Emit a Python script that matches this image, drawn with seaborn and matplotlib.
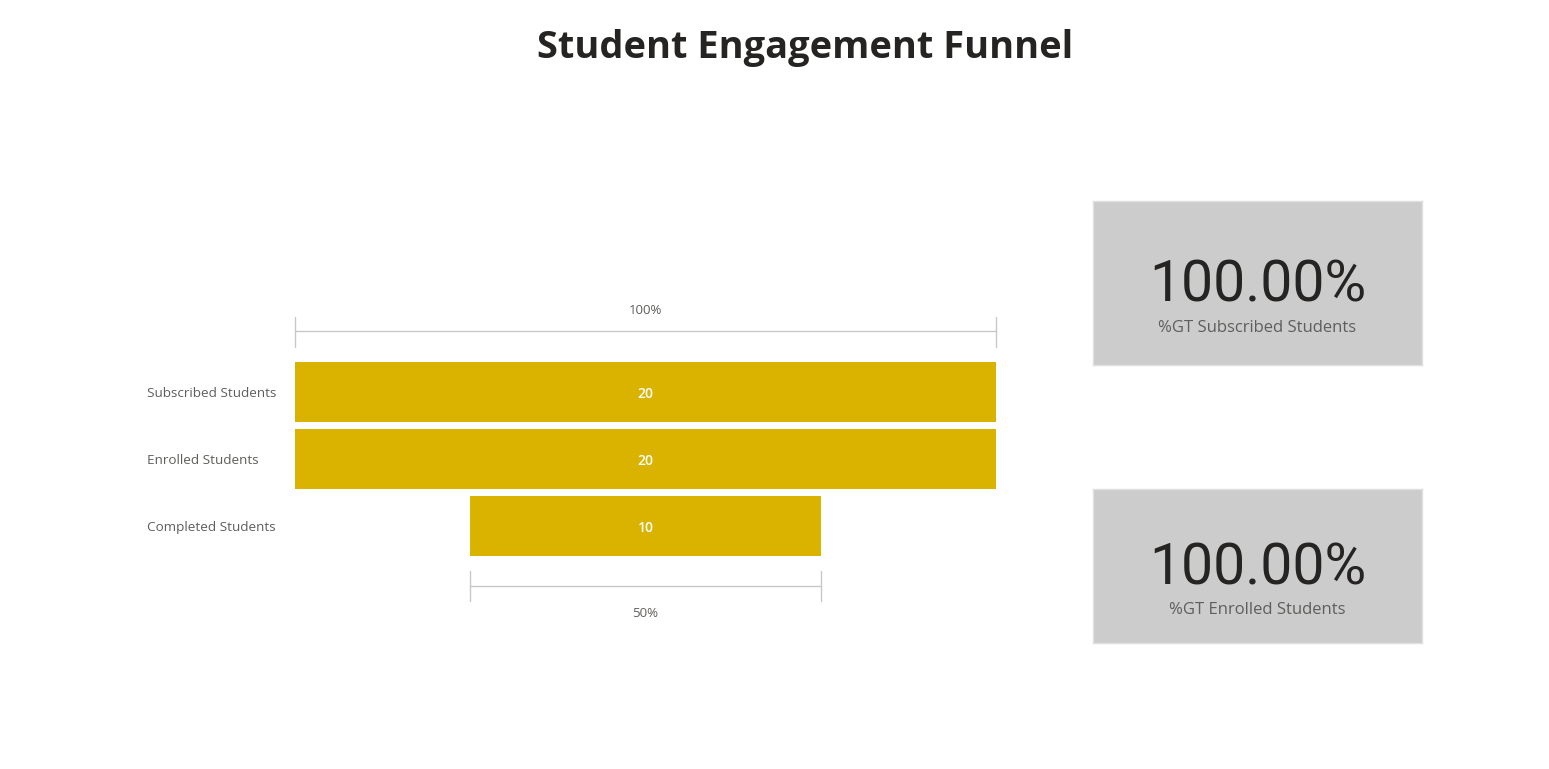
import matplotlib
matplotlib.use("Agg")
import matplotlib.pyplot as plt
import seaborn as sns
import pandas as pd

# ---- data ----
categories = ["Subscribed Students", "Enrolled Students", "Completed Students"]
values = [20, 20, 10]
bracket_labels = ["100%", "50%"]
card_values = ["100.00%", "100.00%"]
card_labels = ["%GT Subscribed Students", "%GT Enrolled Students"]

W, H = 1549, 769
sns.set_theme(style="white")
plt.rcParams['font.family'] = ['Open Sans', 'DejaVu Sans']

fig = plt.figure(figsize=(W / 100, H / 100), dpi=100)
fig.patch.set_facecolor("white")


def px_axes(x0, y0, x1, y1):
    return fig.add_axes([x0 / W, 1 - y1 / H, (x1 - x0) / W, (y1 - y0) / H])


fig.text(805 / W, 1 - 48 / H, "Student Engagement Funnel", ha="center", va="center",
         fontsize=27.4, fontweight="bold", color="#252423")

# ---- funnel ----
ax = px_axes(295, 290, 996, 630)
df = pd.DataFrame({"stage": categories, "value": values})
df["half"] = df["value"] / 2
df["neg"] = -df["value"] / 2
bar_color = "#d9b300"
sns.barplot(data=df, x="half", y="stage", orient="h", color=bar_color, width=0.896,
            saturation=1, ax=ax, linewidth=0)
sns.barplot(data=df, x="neg", y="stage", orient="h", color=bar_color, width=0.896,
            saturation=1, ax=ax, linewidth=0)
top = max(values)
ax.set_xlim(-top / 2, top / 2)
ax.set_ylim(3.552, -1.522)
ax.set_xlabel("")
ax.set_ylabel("")
ax.set_xticks([])
for s in ax.spines.values():
    s.set_visible(False)
ax.tick_params(axis="y", length=0, pad=106.5, labelsize=9.7, labelcolor="#605e5c")
for lab in ax.get_yticklabels():
    lab.set_ha("left")

for i, v in enumerate(values):
    ax.text(0, i + 0.03, str(v), ha="center", va="center", color="white", fontsize=10,
            fontweight="semibold")

gray = "#c8c8c8"
# top bracket (first stage)
v0 = values[0]
ax.plot([-v0 / 2, v0 / 2], [-0.910, -0.910], color=gray, lw=1, clip_on=False)
for xx in (-v0 / 2, v0 / 2):
    ax.plot([xx, xx], [-1.119, -0.672], color=gray, lw=1, clip_on=False)
ax.text(0, -1.22, bracket_labels[0], ha="center", va="center", fontsize=9.5, color="#605e5c")
# bottom bracket (last stage)
vl = values[-1]
ax.plot([-vl / 2, vl / 2], [2.896, 2.896], color=gray, lw=1, clip_on=False)
for xx in (-vl / 2, vl / 2):
    ax.plot([xx, xx], [2.672, 3.119], color=gray, lw=1, clip_on=False)
ax.text(0, 3.30, bracket_labels[1], ha="center", va="center", fontsize=9.5, color="#605e5c")

# ---- cards ----
cards = [(1093, 201, 1422, 365, 0.39, 0.225), (1093, 489, 1422, 643, 0.383, 0.215)]
for (x0, y0, x1, y1, ny, ly), val, lab in zip(cards, card_values, card_labels):
    cax = px_axes(x0, y0, x1, y1)
    cax.set_facecolor("#cccccc")
    cax.set_xticks([])
    cax.set_yticks([])
    for s in cax.spines.values():
        s.set_color("#e0e0e0")
        s.set_linewidth(1)
    cax.text(0.5, ny, val, ha="center", va="baseline", fontsize=41, color="#252423",
             transform=cax.transAxes, family=["Roboto", "DejaVu Sans"])
    cax.text(0.5, ly, lab, ha="center", va="center", fontsize=12, color="#605e5c",
             transform=cax.transAxes)

fig.savefig("out.png", dpi=100, facecolor="white")
